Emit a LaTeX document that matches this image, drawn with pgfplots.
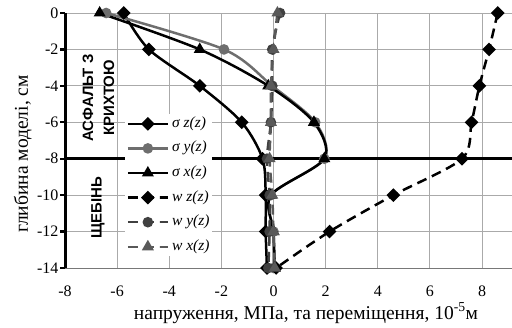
\documentclass[border=0pt]{standalone}
\usepackage{fontspec}
\setmainfont{Liberation Serif}
\newfontfamily\sansb{Liberation Sans}
\usepackage{pgfplots}
\pgfplotsset{compat=1.18}
\definecolor{sy}{RGB}{110,110,110}
\definecolor{wy}{RGB}{64,64,64}
\definecolor{wx}{RGB}{89,89,89}
\begin{document}
\begin{tikzpicture}[x=1pt,y=1pt]
\begin{axis}[name=ax, at={(0,0)}, anchor=south west,
  scale only axis, width=447pt, height=255pt,
  xmin=-8, xmax=9.15, ymin=-14, ymax=0,
  clip=false,
  xtick={-8,-6,...,8}, ytick={-14,-12,...,0},
  xticklabels={-8,-6,-4,-2,0,2,4,6,8},
  yticklabels={-14,-12,-10,-8,-6,-4,-2,0},
  grid=major, major grid style={draw={rgb,255:red,170;green,170;blue,170}, line width=0.9pt},
  axis x line*=bottom, axis y line*=left,
  x axis line style={draw={rgb,255:red,120;green,120;blue,120}, line width=0.9pt},
  y axis line style={black, line width=3pt},
  xtick style={draw=none},
  ytick style={black, line width=2.2pt},
  tick align=outside, major tick length=5pt,
  ticklabel style={font=\fontsize{16}{18}\selectfont},
  xticklabel style={yshift=-9pt},
  yticklabel style={xshift=2pt},
  legend cell align=left,
  legend style={at={(axis cs:-5.72,-5.55)}, anchor=north west, draw=none, fill=white,
    font=\fontsize{15.5}{17}\selectfont\itshape, row sep=9.6pt, inner sep=2pt,
    nodes={inner sep=0pt, text height=11pt, text depth=4pt},
    /tikz/every odd column/.append style={column sep=3pt}},
  legend image code/.code={\draw[#1, mark repeat=2, mark phase=2] plot coordinates {(0pt,0pt) (20pt,0pt) (40pt,0pt)};},
]
\addplot[black, line width=3pt, forget plot] coordinates {(-8,-8) (9.15,-8)};
\addplot[black, line width=2.5pt, smooth, mark=square*, mark options={rotate=45, solid, mark size=3.6pt}]
  coordinates {(-5.75,0) (-4.78,-2) (-2.83,-4) (-1.22,-6) (-0.42,-8) (-0.3,-10) (-0.3,-12) (-0.25,-14)};
\addlegendentry{σ z(z)}
\addplot[sy, line width=2.5pt, smooth, mark=*, mark options={solid, mark size=4pt}]
  coordinates {(-6.42,0) (-1.9,-2) (-0.05,-4) (1.6,-6) (1.95,-8) (-0.1,-10) (0,-12) (0,-14)};
\addlegendentry{σ y(z)}
\addplot[black, line width=2.5pt, smooth, mark=triangle*, mark options={solid, mark size=4.5pt}]
  coordinates {(-6.67,0) (-2.83,-2) (-0.2,-4) (1.55,-6) (1.95,-8) (-0.1,-10) (0,-12) (0.05,-14)};
\addlegendentry{σ x(z)}
\addplot[black, line width=2.5pt, dash pattern=on 10pt off 6pt, smooth, mark=square*, mark options={rotate=45, solid, mark size=3.6pt}]
  coordinates {(8.6,0) (8.27,-2) (7.9,-4) (7.6,-6) (7.23,-8) (4.6,-10) (2.15,-12) (0.1,-14)};
\addlegendentry{w z(z)}
\addplot[wy, line width=2.5pt, dash pattern=on 10pt off 6pt, smooth, mark=*, mark options={solid, mark size=4pt}]
  coordinates {(0.25,0) (-0.05,-2) (-0.05,-4) (-0.1,-6) (-0.25,-8) (-0.15,-10) (-0.15,-12) (-0.2,-14)};
\addlegendentry{w y(z)}
\addplot[wx, line width=2.5pt, dash pattern=on 10pt off 6pt, smooth, mark=triangle*, mark options={solid, mark size=4.5pt}]
  coordinates {(0.15,0) (0,-2) (-0.1,-4) (-0.1,-6) (-0.15,-8) (-0.05,-10) (0,-12) (0.05,-14)};
\addlegendentry{w x(z)}
\end{axis}
\node[rotate=90, anchor=base, font=\fontsize{19.5}{22}\selectfont] at ([shift={(-37pt,114pt)}]ax.south west) {глибина моделі, см};
\node[anchor=base, font=\fontsize{19.5}{22}\selectfont] at ([shift={(241pt,-51pt)}]ax.south west) {напруження, МПа, та переміщення, 10\textsuperscript{-5}м};
\node[rotate=90, align=center, font=\sansb\bfseries\fontsize{15}{21}\selectfont] at ([shift={(33.5pt,170pt)}]ax.south west) {АСФАЛЬТ З\\КРИХТОЮ};
\node[rotate=90, font=\sansb\bfseries\fontsize{15}{21}\selectfont] at ([shift={(33pt,60pt)}]ax.south west) {ЩЕБІНЬ};
\pgfresetboundingbox
\path ([shift={(-65pt,-59pt)}]ax.south west) rectangle ([shift={(0pt,13pt)}]ax.north east);
\end{tikzpicture}
\end{document}
